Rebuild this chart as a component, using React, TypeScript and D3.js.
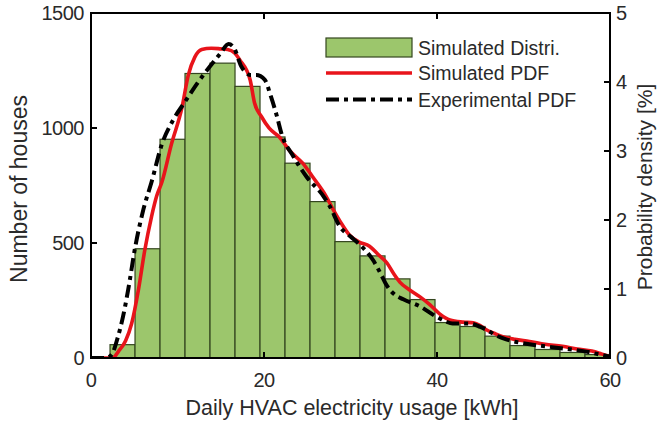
import React from "react";
import * as d3 from "d3";

// Histogram bin edges (kWh) and counts (number of houses)
const binEdges = [2.2, 5.09, 7.98, 10.87, 13.76, 16.65, 19.54, 22.43, 25.32, 28.21, 31.1, 33.99, 36.88, 39.77, 42.66, 45.55, 48.44, 51.33, 54.22, 57.11, 60];
const binCounts = [58, 475, 951, 1237, 1282, 1181, 961, 847, 680, 506, 444, 344, 254, 154, 137, 95, 54, 37, 24, 15];

// Simulated PDF [%] (x in kWh)
const simX = [0, 2.5, 3.2, 4.0, 4.7, 5.5, 6.2, 7.0, 7.6, 8.2, 9.3, 10.5, 11.25, 12.0, 12.8, 13.9, 15.0, 15.8, 16.6, 17.2, 18.4, 18.9, 19.7, 20.6, 21.8, 23.0, 24.5, 25.6, 27.2, 28.0, 28.8, 29.9, 31.0, 32.2, 33.2, 34.2, 35.0, 35.7, 36.8, 38.0, 39.2, 40.3, 41.5, 43.0, 44.2, 45.0, 45.7, 46.6, 47.6, 49.0, 50.7, 52.5, 54.5, 56.2, 57.9, 59.0, 60];
const simY = [0, 0, 0.1, 0.25, 0.5, 1.0, 1.55, 2.05, 2.35, 2.55, 3.1, 3.62, 4.1, 4.36, 4.47, 4.49, 4.48, 4.47, 4.42, 4.32, 4.03, 3.7, 3.5, 3.33, 3.2, 3.0, 2.82, 2.63, 2.34, 2.15, 1.98, 1.78, 1.68, 1.62, 1.5, 1.38, 1.22, 1.1, 0.99, 0.89, 0.77, 0.64, 0.55, 0.52, 0.51, 0.47, 0.41, 0.36, 0.31, 0.27, 0.24, 0.2, 0.17, 0.13, 0.1, 0.06, 0.02];

// Experimental PDF [%]
const expX = [0, 1.8, 2.4, 3.1, 3.7, 4.3, 5.1, 6.05, 7.0, 8.2, 9.5, 10.9, 12.4, 13.9, 15.0, 15.9, 16.5, 17.4, 18.5, 19.1, 20.1, 20.8, 21.5, 22.0, 23.4, 24.9, 26.9, 27.6, 28.8, 30.0, 31.1, 32.6, 33.5, 34.2, 35.0, 36.1, 38.0, 39.9, 41.0, 41.8, 43.8, 45.0, 45.7, 46.8, 48.0, 50.7, 53.8, 56.9, 59.6, 60];
const expY = [0, 0, 0.05, 0.3, 0.6, 0.99, 1.6, 2.15, 2.55, 3.1, 3.45, 3.72, 4.0, 4.25, 4.42, 4.55, 4.5, 4.22, 4.1, 4.1, 4.03, 3.79, 3.5, 3.26, 2.92, 2.63, 2.34, 2.2, 1.9, 1.76, 1.64, 1.42, 1.22, 1.05, 0.93, 0.85, 0.75, 0.6, 0.53, 0.5, 0.5, 0.45, 0.41, 0.33, 0.27, 0.2, 0.15, 0.1, 0.03, 0.02];

const xTicks = [0, 20, 40, 60];
const yLeftTicks = [0, 500, 1000, 1500];
const yRightTicks = [0, 1, 2, 3, 4, 5];
const legendLabels = ["Simulated Distri.", "Simulated PDF", "Experimental PDF"];

const W = 657, H = 422;
const L = 91, R = 610, T = 13, B = 358;
const FONT = "'Liberation Sans', Arial, Helvetica, sans-serif";
const TXT = "#2a2a2a";

export default function App() {
  const x = d3.scaleLinear().domain([0, 60]).range([L, R]);
  const yL = d3.scaleLinear().domain([0, 1500]).range([B, T]);
  const yR = d3.scaleLinear().domain([0, 5]).range([B, T]);

  const line = d3
    .line<[number, number]>()
    .x((d) => x(d[0]))
    .y((d) => yR(d[1]))
    .curve(d3.curveMonotoneX);

  const simPath = line(simX.map((v, i) => [v, simY[i]] as [number, number])) || "";
  const expPath = line(expX.map((v, i) => [v, expY[i]] as [number, number])) || "";

  const bars = binCounts.map((c, i) => ({ x0: binEdges[i], x1: binEdges[i + 1], c }));

  const tick = 6;
  return (
    <svg width={W} height={H} style={{ position: "absolute", left: 0, top: 0, background: "#fff" }} fontFamily={FONT}>
      <rect x={0} y={0} width={W} height={H} fill="#fff" />
      <defs>
        <clipPath id="plot">
          <rect x={L} y={T} width={R - L} height={B - T} />
        </clipPath>
      </defs>
      {/* bars */}
      <g>
        {bars.map((b, i) => (
          <rect
            key={i}
            x={x(b.x0)}
            y={yL(b.c)}
            width={x(b.x1) - x(b.x0)}
            height={yL(0) - yL(b.c)}
            fill="#9cc66c"
            stroke="#34461f"
            strokeWidth={1.2}
          />
        ))}
      </g>
      {/* curves */}
      <g clipPath="url(#plot)">
        <path d={simPath} fill="none" stroke="#e8141b" strokeWidth={3.6} strokeLinejoin="round" />
        <path d={expPath} fill="none" stroke="#000" strokeWidth={4} strokeDasharray="13,5,4,5" />
      </g>
      {/* box */}
      <rect x={L} y={T} width={R - L} height={B - T} fill="none" stroke="#000" strokeWidth={2} />
      {/* left ticks */}
      {yLeftTicks.map((t) => (
        <g key={"l" + t}>
          <line x1={L} x2={L + tick} y1={yL(t)} y2={yL(t)} stroke="#000" strokeWidth={2} />
          <text x={L - 7} y={yL(t)} dy="0.36em" textAnchor="end" fontSize={20} fill={TXT} letterSpacing={-0.5}>
            {t}
          </text>
        </g>
      ))}
      {/* right ticks */}
      {yRightTicks.map((t) => (
        <g key={"r" + t}>
          <line x1={R - tick} x2={R} y1={yR(t)} y2={yR(t)} stroke="#000" strokeWidth={2} />
          <text x={R + 6} y={yR(t)} dy="0.36em" textAnchor="start" fontSize={20} fill={TXT}>
            {t}
          </text>
        </g>
      ))}
      {/* x ticks */}
      {xTicks.map((t) => (
        <g key={"x" + t}>
          <line x1={x(t)} x2={x(t)} y1={T} y2={T + tick} stroke="#000" strokeWidth={2} />
          <line x1={x(t)} x2={x(t)} y1={B} y2={B - tick} stroke="#000" strokeWidth={2} />
          <text x={x(t)} y={387} textAnchor="middle" fontSize={20} fill={TXT} letterSpacing={-0.5}>
            {t}
          </text>
        </g>
      ))}
      {/* axis titles */}
      <text x={352} y={415} textAnchor="middle" fontSize={21.5} fill={TXT}>
        Daily HVAC electricity usage [kWh]
      </text>
      <text transform={`translate(27,189) rotate(-90)`} textAnchor="middle" fontSize={23} fill={TXT}>
        Number of houses
      </text>
      <text transform={`translate(652,187) rotate(-90)`} textAnchor="middle" fontSize={21} fill={TXT}>
        Probability density [%]
      </text>
      {/* legend */}
      <g>
        <rect x={326} y={38} width={86} height={19} fill="#9cc66c" stroke="#34461f" strokeWidth={1.2} />
        <line x1={326} x2={412} y1={73} y2={73} stroke="#e8141b" strokeWidth={3.6} />
        <line x1={326} x2={412} y1={99.5} y2={99.5} stroke="#000" strokeWidth={4} strokeDasharray="13,5,4,5" />
        {legendLabels.map((s, i) => (
          <text key={s} x={418} y={[48, 73, 99.5][i]} dy="0.36em" fontSize={19.5} fill={TXT}>
            {s}
          </text>
        ))}
      </g>
    </svg>
  );
}
